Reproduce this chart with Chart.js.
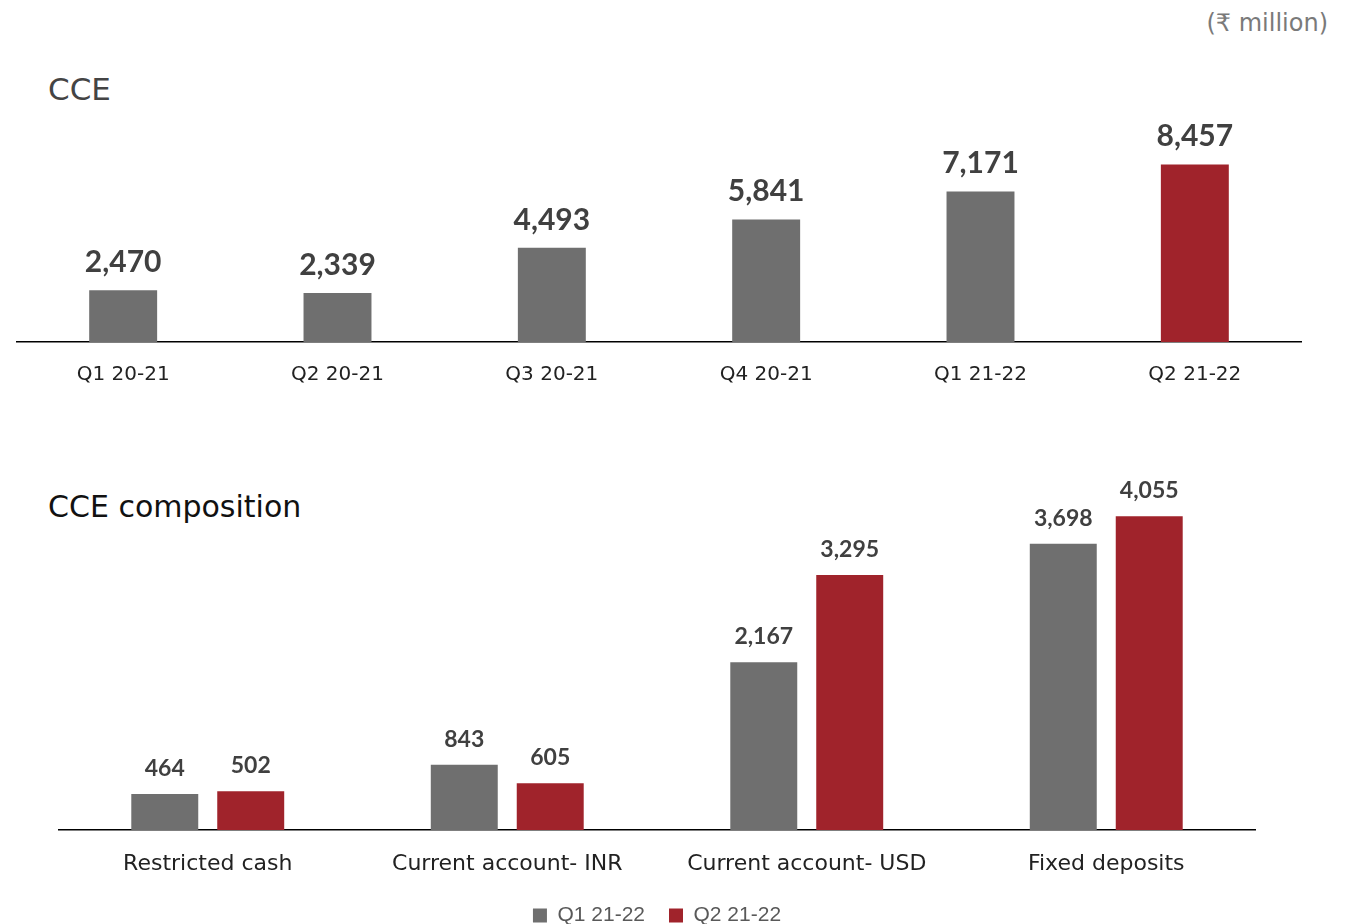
<!DOCTYPE html>
<html lang="en">
<head>
<meta charset="UTF-8">
<title>CCE</title>
<script src="https://cdn.jsdelivr.net/npm/chart.js"></script>
<style>
  body {
    margin: 0;
    width: 1355px;
    height: 924px;
    overflow: hidden;
    background: #fff;
    position: relative;
    font-family: 'DejaVu Sans', sans-serif;
  }
  .heading { position: absolute; white-space: nowrap; }
  #unit { right: 27px; top: 11px; font-size: 24px; line-height: 24px; color: #7a7a7a; }
  #cceTitle { left: 48px; top: 74px; font-size: 31px; line-height: 31px; color: #444; }
  #compTitle { left: 48px; top: 492px; font-size: 30px; line-height: 30px; color: #111; }
  canvas { position: absolute; }
  #cceChart { left: 16px; top: 100px; }
  #compChart { left: 58px; top: 440px; }
</style>
</head>
<body>
  <div class="heading" id="unit">(₹ million)</div>
  <div class="heading" id="cceTitle">CCE</div>
  <div class="heading" id="compTitle">CCE composition</div>

  <canvas id="cceChart" width="1286" height="285"></canvas>
  <canvas id="compChart" width="1198" height="496"></canvas>

<script>
  // quarterly CCE
  const quarters = ['Q1 20-21', 'Q2 20-21', 'Q3 20-21', 'Q4 20-21', 'Q1 21-22', 'Q2 21-22'];
  const cceValues = [2470, 2339, 4493, 5841, 7171, 8457];

  // composition, last two quarters
  const components = ['Restricted cash', 'Current account- INR', 'Current account- USD', 'Fixed deposits'];
  const q1Values = [464, 843, 2167, 3698];
  const q2Values = [502, 605, 3295, 4055];
  const seriesNames = ['Q1 21-22', 'Q2 21-22'];

  const GREY = '#6f6f6f';
  const RED = '#a0232b';

  Chart.defaults.font.family = "'DejaVu Sans', sans-serif";
  Chart.defaults.animation = false;

  // writes the value on top of every bar
  function valueLabels(fontSize) {
    return {
      id: 'valueLabels',
      afterDatasetsDraw(chart) {
        const ctx = chart.ctx;
        ctx.save();
        ctx.font = 'bold ' + fontSize + 'px Lato, sans-serif';
        ctx.fillStyle = '#404040';
        ctx.textAlign = 'center';
        ctx.textBaseline = 'alphabetic';
        chart.data.datasets.forEach((ds, i) => {
          chart.getDatasetMeta(i).data.forEach((bar, j) => {
            ctx.fillText(ds.data[j].toLocaleString('en-US'), bar.x, bar.y - 18);
          });
        });
        ctx.restore();
      }
    };
  }

  new Chart(document.getElementById('cceChart'), {
    type: 'bar',
    data: {
      labels: quarters,
      datasets: [{
        data: cceValues,
        backgroundColor: cceValues.map((v, i) => i === cceValues.length - 1 ? RED : GREY),
        barPercentage: 0.317,
        categoryPercentage: 1
      }]
    },
    options: {
      responsive: false,
      layout: { padding: 0 },
      plugins: { legend: { display: false }, tooltip: { enabled: false } },
      scales: {
        x: {
          grid: { display: false, drawTicks: false },
          border: { display: true, color: '#000', width: 1.5 },
          ticks: { color: '#222', font: { size: 20 }, padding: 21, maxRotation: 0, autoSkip: false },
          afterFit(scale) { scale.height = 43; }
        },
        y: { display: false, min: 0, max: 11530 }
      }
    },
    plugins: [valueLabels(30)]
  });

  new Chart(document.getElementById('compChart'), {
    type: 'bar',
    data: {
      labels: components,
      datasets: [
        { label: seriesNames[0], data: q1Values, backgroundColor: GREY },
        { label: seriesNames[1], data: q2Values, backgroundColor: RED }
      ]
    },
    options: {
      responsive: false,
      layout: { padding: 0 },
      datasets: { bar: { barPercentage: 0.779, categoryPercentage: 0.574 } },
      plugins: {
        tooltip: { enabled: false },
        legend: {
          position: 'bottom',
          labels: {
            boxWidth: 14,
            boxHeight: 14,
            padding: 24,
            color: '#595959',
            font: { family: "'Liberation Sans', sans-serif", size: 21 }
          }
        }
      },
      scales: {
        x: {
          grid: { display: false, drawTicks: false },
          border: { display: true, color: '#000', width: 1.5 },
          ticks: { color: '#222', font: { size: 22 }, padding: 21, maxRotation: 0, autoSkip: false },
          afterFit(scale) { scale.height = 51; }
        },
        y: { display: false, min: 0, max: 5040 }
      }
    },
    plugins: [valueLabels(23)]
  });
</script>
</body>
</html>
